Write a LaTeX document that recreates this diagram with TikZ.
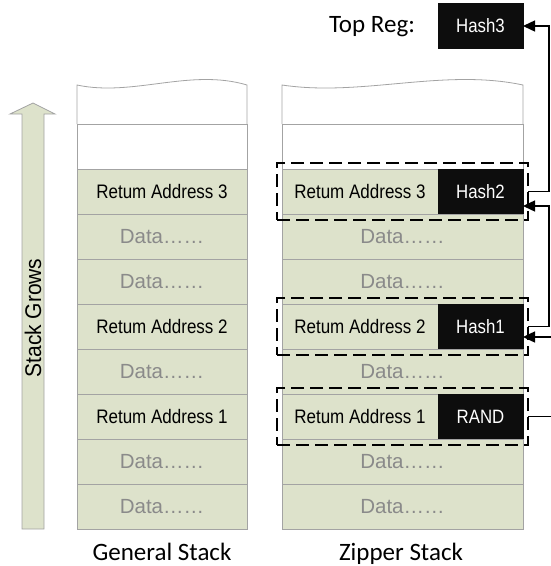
\documentclass[tikz,border=0pt]{standalone}
\usepackage{graphicx}
\usepackage{fontspec}
\setmainfont{Liberation Sans}
\newfontfamily\calib{Carlito}
\usetikzlibrary{arrows.meta}
\definecolor{cellfill}{HTML}{DDE2CB}
\definecolor{cellline}{HTML}{A3A3A3}
\definecolor{datagray}{HTML}{8A8A8A}
\definecolor{boxblack}{HTML}{0D0D0D}
\newcommand{\vstr}[1]{\scalebox{1}[1.15]{#1}}
\begin{document}
\begin{tikzpicture}[x=1pt,y=-1pt,
  cell/.style={draw=cellline, fill=cellfill, line width=0.8pt, inner sep=0pt, outer sep=0pt,
    minimum height=45pt, anchor=north west},
  gcell/.style={cell, minimum width=170pt},
  zcell/.style={cell, minimum width=241pt},
  racell/.style={cell, minimum width=156pt},
  hashbox/.style={draw=boxblack, fill=boxblack, line width=0.8pt, inner sep=0pt, outer sep=0pt,
    minimum height=45pt, minimum width=85pt, anchor=north west, text=white,
    font=\fontsize{16.8}{19}\selectfont},
  ratext/.style={font=\fontsize{17}{20}\selectfont},
  datatext/.style={font=\fontsize{20.5}{24}\selectfont, text=datagray},
  dashbox/.style={draw=black, line width=1.4pt, dash pattern=on 13pt off 6pt, inner sep=0pt,
    outer sep=0pt, minimum width=251pt, minimum height=57pt},
  conn/.style={line width=1.4pt, -{Triangle[length=12pt,width=11pt]}},
  lbl/.style={font=\calib\fontsize{25}{30}\selectfont, anchor=base},
]
\useasboundingbox (0,0) rectangle (551,566);

% growth arrow
\draw[cellline, fill=cellfill, line width=0.8pt]
  (22,529) -- (22,114) -- (10,114) -- (33,103) -- (55,114) -- (44,114) -- (44,529) -- cycle;
\node[rotate=90, font=\fontsize{21}{24}\selectfont] (sg) at (33,318) {\scalebox{1}[1.08]{Stack Grows}};

% general stack top
\draw[cellline, line width=0.8pt] (77,124) rectangle (247,169);
\draw[cellline, line width=0.8pt] (77,124) -- (77,85) .. controls (133,97) and (190,68) .. (247,85) -- (247,124);
% general stack rows
\node[gcell, ratext]   (g1) at (77,169) {\vstr{Retum Address 3}};
\node[gcell, datatext] (g2) at (77,214) {Data……};
\node[gcell, datatext] (g3) at (77,259) {Data……};
\node[gcell, ratext]   (g4) at (77,304) {\vstr{Retum Address 2}};
\node[gcell, datatext] (g5) at (77,349) {Data……};
\node[gcell, ratext]   (g6) at (77,394) {\vstr{Retum Address 1}};
\node[gcell, datatext] (g7) at (77,439) {Data……};
\node[gcell, datatext] (g8) at (77,484) {Data……};

% zipper stack top
\draw[cellline, line width=0.8pt] (282,124) rectangle (523,169);
\draw[cellline, line width=0.8pt] (282,124) -- (282,85) .. controls (362,97) and (443,68) .. (523,85) -- (523,124);
% zipper stack rows
\node[racell, ratext]  (z1) at (282,169) {\vstr{Retum Address 3}};
\node[hashbox]         (h2) at (438,169) {\vstr{Hash2}};
\node[zcell, datatext] (z2) at (282,214) {Data……};
\node[zcell, datatext] (z3) at (282,259) {Data……};
\node[racell, ratext]  (z4) at (282,304) {\vstr{Retum Address 2}};
\node[hashbox]         (h1) at (438,304) {\vstr{Hash1}};
\node[zcell, datatext] (z5) at (282,349) {Data……};
\node[racell, ratext]  (z6) at (282,394) {\vstr{Retum Address 1}};
\node[hashbox]         (hr) at (438,394) {\vstr{RAND}};
\node[zcell, datatext] (z7) at (282,439) {Data……};
\node[zcell, datatext] (z8) at (282,484) {Data……};

% dashed frames
\node[dashbox] (d3) at (402.5,191.5) {};
\node[dashbox] (d2) at (402.5,326.5) {};
\node[dashbox] (d1) at (402.5,416.5) {};

% top register
\node[hashbox] (h3) at (438,3.5) {\vstr{Hash3}};
\node[lbl] (tr) at (372,32) {Top Reg:};

% connectors
\coordinate (c1) at (549,0);
\coordinate (c2) at (557,0);
\coordinate (ah2) at ([yshift=-14.5pt]h2.east);
\coordinate (ah1) at ([yshift=-10.5pt]h1.east);
\draw[conn] (d3.east) -| (c1 |- h3.east) -- (h3.east);
\draw[conn] (d2.east) -| (c1 |- ah2) -- (ah2);
\draw[conn] (d1.east) -| (c2 |- ah1) -- (ah1);

% captions
\node[lbl] (gl) at (162,560) {General Stack};
\node[lbl] (zl) at (401,560) {Zipper Stack};
\end{tikzpicture}
\end{document}
